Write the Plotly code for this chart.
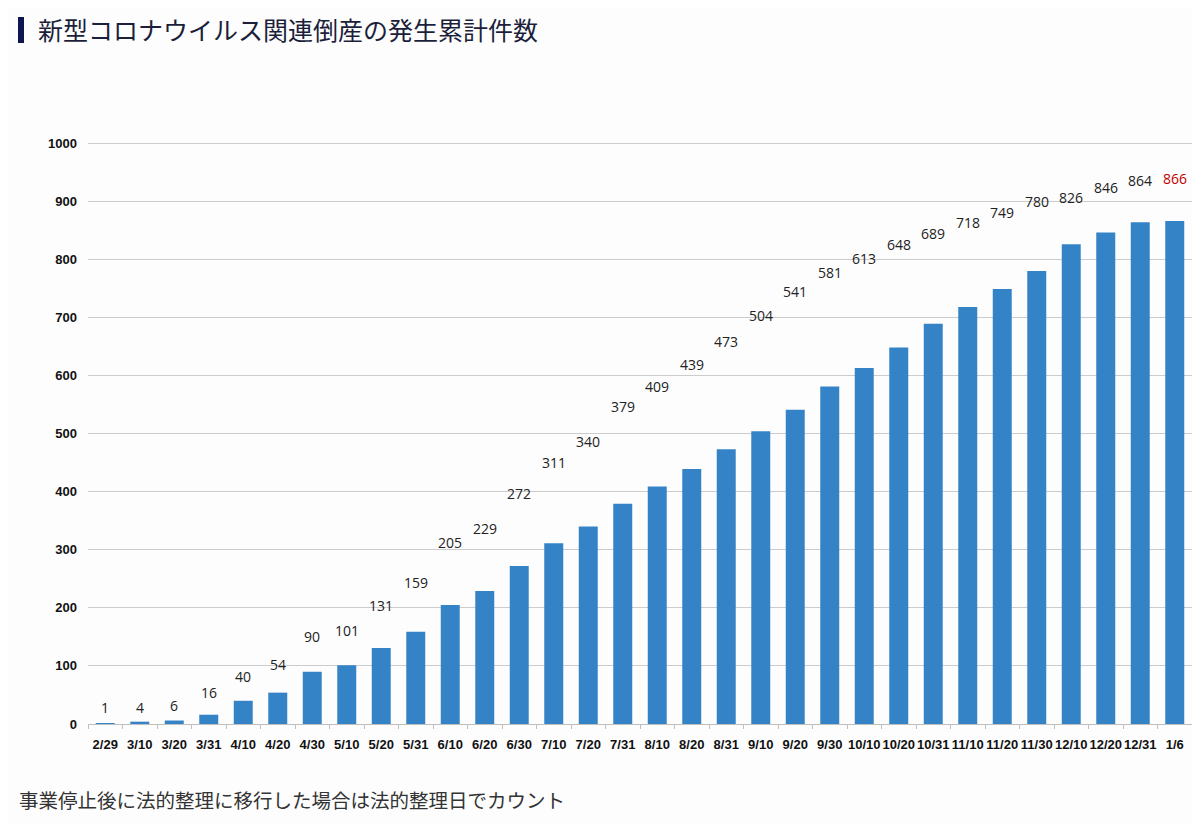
import plotly.graph_objects as go

categories = ["2/29","3/10","3/20","3/31","4/10","4/20","4/30","5/10","5/20","5/31",
              "6/10","6/20","6/30","7/10","7/20","7/31","8/10","8/20","8/31","9/10",
              "9/20","9/30","10/10","10/20","10/31","11/10","11/20","11/30","12/10",
              "12/20","12/31","1/6"]
values = [1,4,6,16,40,54,90,101,131,159,205,229,272,311,340,379,409,439,473,504,
          541,581,613,648,689,718,749,780,826,846,864,866]
# label heights (in axis units) where the value labels sit in the reference
label_y = [28,28,31,55,81,103,151,161,204,244,313,337,397,450,486,546,581,619,658,704,
           744,778,801,826,845,864,880,899,907,923,935,940]
y_ticks = [0,100,200,300,400,500,600,700,800,900,1000]

# page geometry (the page body has an 8px margin)
OFF = 8
PX0, PX1, PY0, PY1 = 88, 1192, 142, 724
PW, PH = PX1 - PX0, PY1 - PY0


def px(x):
    return (x - PX0) / PW


def py(y):
    return (PY1 - y) / PH


TICKFONT = dict(family="Liberation Sans, Arial, sans-serif", size=13, color="#111111", weight="bold")

fig = go.Figure()
fig.add_trace(go.Bar(x=categories, y=values, marker_color="#3583c7",
                     marker_line_width=0, width=0.55, hoverinfo="x+y"))

for i, (c, v, ly) in enumerate(zip(categories, values, label_y)):
    fig.add_annotation(x=c, y=ly, text=str(v), showarrow=False,
                       font=dict(family="Open Sans, Noto Sans, sans-serif", size=14,
                                 color="#c00000" if i == len(values) - 1 else "#222222"))

fig.update_layout(
    width=1200 - OFF, height=824 - OFF,
    paper_bgcolor="#fdfdfd", plot_bgcolor="#fdfdfd",
    margin=dict(l=PX0 - OFF, r=1200 - OFF - (PX1 - OFF), t=PY0 - OFF, b=824 - PY1),
    showlegend=False,
    bargap=0.45,
    xaxis=dict(type="category", tickfont=TICKFONT,
               showline=True, linecolor="#bfbfbf", linewidth=1, ticks="outside",
               tickcolor="#bfbfbf", ticklen=4, tickangle=0, range=[-0.5, 31.5],
               showgrid=False, tickson="boundaries", ticklabelstandoff=8),
    yaxis=dict(range=[0, 1002], tickvals=y_ticks, tickfont=TICKFONT,
               showgrid=True, gridcolor="#cccccc", gridwidth=1, zeroline=False,
               ticks="", ticklabelstandoff=10),
)

# title bar and title
fig.add_shape(type="rect", xref="paper", yref="paper",
              x0=px(18), x1=px(24), y0=py(43), y1=py(17),
              fillcolor="#0d1650", line_width=0)
fig.add_annotation(xref="paper", yref="paper", x=px(36), y=py(29),
                   xanchor="left", yanchor="middle", showarrow=False,
                   text="新型コロナウイルス関連倒産の発生累計件数",
                   font=dict(family="Noto Sans CJK JP", size=25, color="#1b1f3a"))
fig.add_annotation(xref="paper", yref="paper", x=px(17), y=py(799),
                   xanchor="left", yanchor="middle", showarrow=False,
                   text="事業停止後に法的整理に移行した場合は法的整理日でカウント",
                   font=dict(family="Noto Sans CJK JP", size=19.5, color="#333333"))

fig.write_html("out.html")
